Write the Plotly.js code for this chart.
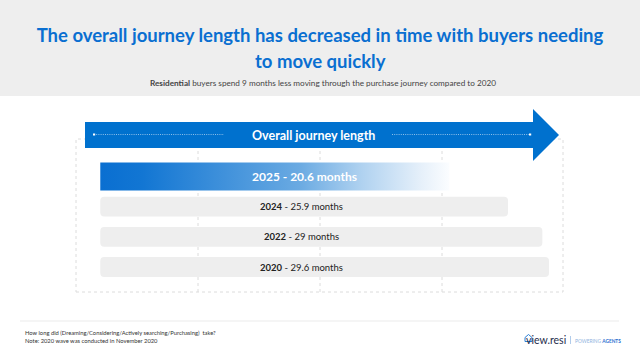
<!DOCTYPE html>
<html>
<head>
<meta charset="utf-8">
<script src="https://cdn.plot.ly/plotly-3.0.1.min.js"></script>
<style>html,body{margin:0;padding:0;background:#fff;}#chart{width:640px;height:360px;}</style>
</head>
<body>
<div id="chart"></div>
<script>
// ---- data ----
const years = ["2025", "2024", "2022", "2020"];
const months = [20.6, 25.9, 29, 29.6];
const unitLabel = "months";
const titleLines = ["The overall journey length has decreased in time with buyers needing", "to move quickly"];
const subtitleBold = "Residential";
const subtitleRest = " buyers spend 9 months less moving through the purchase journey compared to 2020";
const arrowLabel = "Overall journey length";
const footLines = ["How long did (Dreaming/Considering/Actively searching/Purchasing)  take?", "Note: 2020 wave was conducted in November 2020"];

// ---- layout helpers (pixel -> paper) ----
const W = 640, H = 360;
const px = x => x / W;
const py = y => 1 - y / H;
const BASE = -10.9;          // left edge of bars on the value axis
const idx = years.map((_, i) => i);

const highlight = 0;         // 2025 drawn with gradient
const grayIdx = idx.filter(i => i !== highlight);
const FONT = "Lato, 'Open Sans', sans-serif";

const traces = [
  {
    type: "bar", orientation: "h",
    y: grayIdx.map(i => i),
    x: grayIdx.map(i => months[i] - BASE),
    base: BASE,
    width: 0.66,
    marker: {color: "#eeeeee"},
    hoverinfo: "skip", showlegend: false
  },
  {
    type: "scatter", mode: "lines",
    x: [BASE, months[highlight], months[highlight], BASE, BASE],
    y: [highlight - 0.464, highlight - 0.464, highlight + 0.464, highlight + 0.464, highlight - 0.464],
    fill: "toself",
    line: {width: 0, color: "rgba(0,0,0,0)"},
    fillgradient: {
      type: "horizontal",
      start: BASE, stop: months[highlight],
      colorscale: [[0, "#0a6fd1"], [0.12, "#1276d3"], [0.57, "#6aaae2"], [0.75, "#b0d2f0"], [0.92, "#e6f0fa"], [1, "#fbfdff"]]
    },
    hoverinfo: "skip", showlegend: false
  }
];

const ann = [];
// second title line
ann.push({xref: "paper", yref: "paper", x: 0.5, y: py(61), xanchor: "center", yanchor: "middle",
  text: "<b>" + titleLines[1] + "</b>", showarrow: false,
  font: {family: FONT, size: 18.5, color: "#0a6fd1"}});
// subtitle
ann.push({xref: "paper", yref: "paper", x: px(323), y: py(83), xanchor: "center", yanchor: "middle",
  text: "<b>" + subtitleBold + "</b>" + subtitleRest, showarrow: false,
  font: {family: FONT, size: 8.2, color: "#444444"}});
// arrow label
ann.push({xref: "paper", yref: "paper", x: px(313), y: py(135), xanchor: "center", yanchor: "middle",
  text: "<b>" + arrowLabel + "</b>", showarrow: false,
  font: {family: FONT, size: 12.5, color: "#ffffff"}});
// bar labels
idx.forEach(i => {
  const hi = i === highlight;
  ann.push({xref: "paper", yref: "y", x: px(hi ? 304 : 301), y: i, xanchor: "center", yanchor: "middle",
    text: hi ? "<b>" + years[i] + " - " + months[i] + " " + unitLabel + "</b>"
             : "<b>" + years[i] + "</b> - " + months[i] + " " + unitLabel,
    showarrow: false,
    font: {family: FONT, size: hi ? 12 : 9.5, color: hi ? "#ffffff" : "#222222"}});
});
// footer
footLines.forEach((t, k) => {
  ann.push({xref: "paper", yref: "paper", x: px(23), y: py(332 + 8 * k), xanchor: "left", yanchor: "middle",
    text: t, showarrow: false, font: {family: FONT, size: 5.8, color: "#333333"}});
});
// logo
ann.push({xref: "paper", yref: "paper", x: px(567.5), y: py(340), xanchor: "right", yanchor: "middle",
  text: "view.resi", showarrow: false, font: {family: "Lato, sans-serif", size: 10.5, color: "#1f2d4d"}});
ann.push({xref: "paper", yref: "paper", x: px(573), y: py(340.5), xanchor: "left", yanchor: "middle",
  text: "<span style='color:#8fb3e0'>POWERING</span> <b>AGENTS</b>", showarrow: false,
  font: {family: "Lato, sans-serif", size: 4.8, color: "#2a6fd0"}});

const shapes = [];
// header band
shapes.push({type: "rect", xref: "paper", yref: "paper", x0: 0, x1: 1, y0: py(96), y1: 1,
  fillcolor: "#eeeeee", line: {width: 0}, layer: "below"});
// dotted frame
const dotLine = {color: "#dcdcdc", width: 1, dash: "dot"};
shapes.push({type: "rect", xref: "paper", yref: "paper", x0: px(76), x1: px(563), y0: py(292), y1: py(139),
  line: dotLine, fillcolor: "rgba(0,0,0,0)", layer: "below"});
[198, 320, 442].forEach(x => shapes.push({type: "line", xref: "paper", yref: "paper",
  x0: px(x), x1: px(x), y0: py(292), y1: py(139), line: dotLine, layer: "below"}));
// arrow
const pts = [[85,122],[533,122],[533,109],[559,135],[533,161],[533,148],[85,148]];
shapes.push({type: "path", xref: "paper", yref: "paper",
  path: "M " + pts.map(p => px(p[0]) + "," + py(p[1])).join(" L ") + " Z",
  fillcolor: "#0071ce", line: {width: 0}, layer: "above"});
// dotted lines inside arrow
[[94, 224], [392, 530]].forEach(s => {
  shapes.push({type: "line", xref: "paper", yref: "paper", x0: px(s[0]), x1: px(s[1]), y0: py(134.5), y1: py(134.5),
    line: {color: "rgba(255,255,255,0.7)", width: 0.8, dash: "1px,1.2px"}, layer: "above"});
});
[94, 530].forEach(x => shapes.push({type: "rect", xref: "paper", yref: "paper",
  x0: px(x - 1), x1: px(x + 1.2), y0: py(135.5), y1: py(133.5), fillcolor: "#ffffff", line: {width: 0}, layer: "above"}));
// footer rule
shapes.push({type: "line", xref: "paper", yref: "paper", x0: px(20), x1: px(619), y0: py(321), y1: py(321),
  line: {color: "#f2f2f2", width: 1.5}, layer: "below"});
// logo house icon
const hp = [[525,341.5],[525,337.5],[528.5,334.5],[532,337.5],[532,341.5]];
shapes.push({type: "path", xref: "paper", yref: "paper",
  path: "M " + hp.map(p => px(p[0]) + "," + py(p[1])).join(" L ") + " Z",
  line: {color: "#2a7fd6", width: 1}, fillcolor: "rgba(0,0,0,0)", layer: "above"});
shapes.push({type: "line", xref: "paper", yref: "paper", x0: px(570.5), x1: px(570.5), y0: py(344), y1: py(336),
  line: {color: "#9dbfe6", width: 0.8}, layer: "above"});

const layout = {
  width: W, height: H,
  margin: {l: 0, r: 0, t: 0, b: 0, pad: 0},
  paper_bgcolor: "#ffffff", plot_bgcolor: "rgba(0,0,0,0)",
  title: {text: "<b>" + titleLines[0] + "</b>", x: 0.5, xanchor: "center", xref: "paper", y: py(36), yref: "container", yanchor: "middle",
    font: {family: FONT, size: 18.5, color: "#0a6fd1"}},
  xaxis: {range: [-19.95, 37.81], visible: false, fixedrange: true},
  yaxis: {range: [6.078, -5.843], visible: false, fixedrange: true},
  barcornerradius: 4,
  showlegend: false,
  annotations: ann,
  shapes: shapes
};

Plotly.newPlot("chart", traces, layout, {staticPlot: true, displayModeBar: false});
</script>
</body>
</html>
